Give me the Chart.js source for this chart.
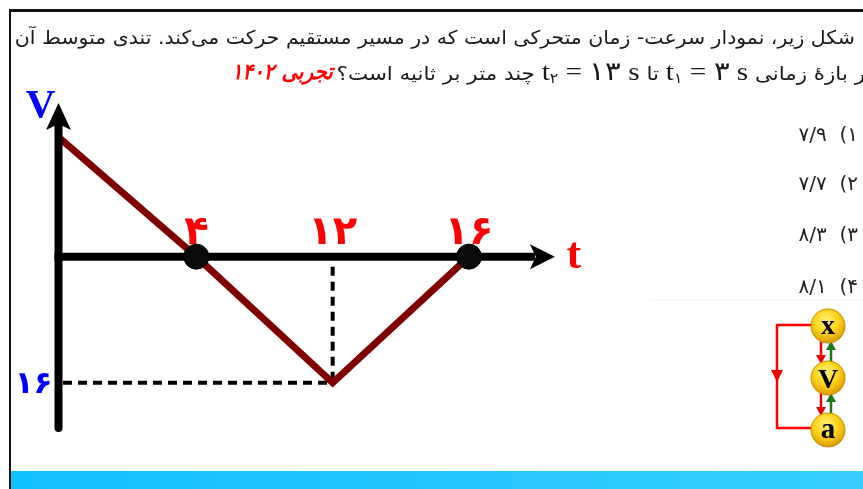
<!DOCTYPE html>
<html><head><meta charset="utf-8">
<script src="https://cdn.jsdelivr.net/npm/chart.js@4.4.1/dist/chart.umd.min.js"></script>
<style>
html,body{margin:0;padding:0;width:863px;height:489px;overflow:hidden;background:#fff;}
#wrap{position:relative;width:863px;height:489px;overflow:hidden;}
#c{position:absolute;left:0;top:0;z-index:1;}
.frame{position:absolute;left:9px;top:9px;width:900px;height:600px;border-top:3px solid #111;border-left:2px solid #111;box-sizing:border-box;z-index:2;}
.band{position:absolute;left:11px;top:471px;width:852px;height:18px;background:linear-gradient(90deg,#12bfff,#38ceff);z-index:2;}
.q{position:absolute;direction:rtl;white-space:nowrap;font-family:'DejaVu Sans',sans-serif;font-size:19px;color:#1a1a1a;z-index:3;transform-origin:right center;line-height:30px;}
#l1{right:8px;top:22px;}
#l2{right:-12px;top:57px;}
#l2r{right:530px;top:57px;color:#f00;font-weight:bold;font-style:italic;font-size:22px;}
.m{font-family:'Liberation Serif','DejaVu Serif',serif;unicode-bidi:isolate;direction:ltr;font-size:26px;}
.m sub{font-size:14px;vertical-align:-3px;font-family:'DejaVu Sans';}
.opt{position:absolute;right:5px;direction:rtl;white-space:nowrap;font-family:'DejaVu Sans',sans-serif;font-size:20px;color:#222;z-index:3;line-height:24px;}
.faint{position:absolute;left:650px;top:300px;width:213px;height:1px;background:#f5f5f5;z-index:2;}
svg{position:absolute;left:760px;top:300px;z-index:3;}
</style></head>
<body><div id="wrap">
<canvas id="c" width="863" height="489"></canvas>
<div class="frame"></div>
<div class="band"></div>
<div class="faint"></div>
<div class="q" id="l1">شکل زیر، نمودار سرعت- زمان متحرکی است که در مسیر مستقیم حرکت می‌کند. تندی متوسط آن</div>
<div class="q" id="l2">در بازهٔ زمانی <span class="m">t<sub>۱</sub> = ۳ s</span> تا <span class="m">t<sub>۲</sub> = ۱۳ s</span> چند متر بر ثانیه است؟</div>
<div class="q" id="l2r">تجربی ۱۴۰۲</div>
<div class="opt" style="top:122px">۱)&nbsp; ۷/۹</div>
<div class="opt" style="top:171px">۲)&nbsp; ۷/۷</div>
<div class="opt" style="top:222px">۳)&nbsp; ۸/۳</div>
<div class="opt" style="top:274px">۴)&nbsp; ۸/۱</div>
<svg width="103" height="150" viewBox="0 0 103 150">
 <defs>
  <radialGradient id="gold" cx="0.45" cy="0.35" r="0.65">
   <stop offset="0" stop-color="#fff27a"/>
   <stop offset="0.55" stop-color="#ffd21a"/>
   <stop offset="1" stop-color="#d99a00"/>
  </radialGradient>
 </defs>
 <path d="M52,25 L17,25 L17,128 L52,128" fill="none" stroke="#f00" stroke-width="2.5"/>
 <path d="M11,70 L23,70 L17,82 z" fill="#e00"/>
 <line x1="61" y1="41" x2="61" y2="57" stroke="#e00" stroke-width="2.5"/>
 <path d="M56,55 L66,55 L61,64 z" fill="#e00"/>
 <line x1="71" y1="64" x2="71" y2="48" stroke="#1a7a1a" stroke-width="2.5"/>
 <path d="M66,50 L76,50 L71,41 z" fill="#1a7a1a"/>
 <line x1="61" y1="93" x2="61" y2="109" stroke="#e00" stroke-width="2.5"/>
 <path d="M56,107 L66,107 L61,116 z" fill="#e00"/>
 <line x1="71" y1="116" x2="71" y2="100" stroke="#1a7a1a" stroke-width="2.5"/>
 <path d="M66,102 L76,102 L71,93 z" fill="#1a7a1a"/>
 <circle cx="68" cy="26" r="17" fill="url(#gold)" stroke="#c58a00" stroke-width="1"/>
 <circle cx="68" cy="78" r="17" fill="url(#gold)" stroke="#c58a00" stroke-width="1"/>
 <circle cx="68" cy="130" r="17" fill="url(#gold)" stroke="#c58a00" stroke-width="1"/>
 <text x="68" y="34" text-anchor="middle" font-family="Liberation Serif" font-weight="bold" font-size="28" fill="#000">x</text>
 <text x="68" y="88" text-anchor="middle" font-family="Liberation Serif" font-weight="bold" font-size="28" fill="#000">V</text>
 <text x="68" y="138" text-anchor="middle" font-family="Liberation Serif" font-weight="bold" font-size="29" fill="#000">a</text>
</svg>
</div>
<script>
// ---- data ----
const tLabels   = ['0', '4', '12', '16'];      // time categories
const vValues   = [15, 0, -16, 0];             // velocity at each time
const tTickText = ['', '۴', '۱۲', '۱۶'];       // tick labels drawn above the t axis
const vTickVals = [-16];                       // marked velocity
const vTickText = ['۱۶'];                      // its label
const axisNames = ['V', 't'];

const dots = vValues.map((v, i) => (i > 0 && v === 0) ? v : null);

const decor = {
  id: 'decor',
  beforeDatasetsDraw(chart) {
    const {ctx, chartArea: a, scales: {x, y}} = chart;
    const y0 = y.getPixelForValue(0);
    ctx.save();
    ctx.strokeStyle = '#000'; ctx.lineWidth = 4; ctx.setLineDash([9, 6]);
    vTickVals.forEach(val => {
      const i = vValues.indexOf(val);
      const px = x.getPixelForValue(i), py = y.getPixelForValue(val);
      ctx.beginPath(); ctx.moveTo(px, y0 + 10); ctx.lineTo(px, py); ctx.stroke();
      ctx.beginPath(); ctx.moveTo(a.left + 3, py); ctx.lineTo(px, py); ctx.stroke();
    });
    ctx.restore();
  },
  afterDatasetDraw(chart, args) {
    if (args.index !== 0) return;
    const {ctx, chartArea: a, scales: {x, y}} = chart;
    const y0 = y.getPixelForValue(0);
    const xv = a.left - 1.5;
    const step = x.getPixelForValue(1) - x.getPixelForValue(0);
    const xTip = a.right + step * 0.63;
    ctx.save();
    ctx.strokeStyle = '#000'; ctx.fillStyle = '#000'; ctx.lineWidth = 8;
    ctx.lineCap = 'round';
    ctx.beginPath(); ctx.moveTo(xv, a.bottom - 2); ctx.lineTo(xv, a.top + 22); ctx.stroke();
    ctx.lineCap = 'butt';
    ctx.beginPath();
    ctx.moveTo(xv, a.top); ctx.lineTo(xv + 12.5, a.top + 27); ctx.lineTo(xv, a.top + 21);
    ctx.lineTo(xv - 12.5, a.top + 27); ctx.closePath(); ctx.fill();
    ctx.beginPath(); ctx.moveTo(xv - 4, y0); ctx.lineTo(xTip - 20, y0); ctx.stroke();
    ctx.beginPath();
    ctx.moveTo(xTip, y0); ctx.lineTo(xTip - 25, y0 - 12.5); ctx.lineTo(xTip - 19, y0);
    ctx.lineTo(xTip - 25, y0 + 12.5); ctx.closePath(); ctx.fill();
    ctx.restore();
  },
  afterDraw(chart) {
    const {ctx, chartArea: a, scales: {x, y}} = chart;
    const y0 = y.getPixelForValue(0);
    const xv = a.left - 1.5;
    const step = x.getPixelForValue(1) - x.getPixelForValue(0);
    const xTip = a.right + step * 0.63;
    ctx.save();
    ctx.textAlign = 'center'; ctx.textBaseline = 'alphabetic';
    ctx.fillStyle = '#f00';
    ctx.font = 'bold 40px "DejaVu Sans"';
    tTickText.forEach((s, i) => { if (s) ctx.fillText(s, x.getPixelForValue(i), y0 - 13); });
    ctx.fillStyle = '#0000ff';
    ctx.textAlign = 'right';
    ctx.font = 'bold 31px "DejaVu Sans"';
    vTickVals.forEach((v, i) => ctx.fillText(vTickText[i], xv - 6, y.getPixelForValue(v) + 10));
    ctx.textAlign = 'center';
    ctx.font = 'bold 41px "Liberation Serif"';
    ctx.fillText(axisNames[0], xv - 18, a.top + 14);
    ctx.fillStyle = '#f00';
    ctx.font = 'bold 44px "Liberation Serif"';
    ctx.fillText(axisNames[1], xTip + 19, y0 + 11);
    ctx.restore();
  }
};

new Chart(document.getElementById('c'), {
  type: 'line',
  data: {
    labels: tLabels,
    datasets: [
      { data: vValues, borderColor: '#800000', borderWidth: 7, pointRadius: 0,
        borderJoinStyle: 'miter', borderCapStyle: 'butt', tension: 0, order: 1, clip: false },
      { data: dots, showLine: false, pointRadius: 12.5, pointBackgroundColor: '#0b0b0b',
        pointBorderColor: '#000', pointBorderWidth: 1, order: 0, clip: false }
    ]
  },
  options: {
    responsive: false, animation: false, devicePixelRatio: 1,
    layout: { padding: { left: 60, right: 394, top: 103, bottom: 59 } },
    plugins: { legend: { display: false }, tooltip: { enabled: false } },
    events: [],
    scales: {
      x: { display: false, offset: false },
      y: { display: false, min: -22, max: 19.5 }
    }
  },
  plugins: [decor]
});

function fit(id, leftTarget) {
  const el = document.getElementById(id);
  const r = el.getBoundingClientRect();
  const s = (r.right - leftTarget) / r.width;
  el.style.transform = 'scaleX(' + s.toFixed(4) + ')';
}
fit('l1', 15);
fit('l2', 337);
fit('l2r', 232);
</script>
</body></html>
